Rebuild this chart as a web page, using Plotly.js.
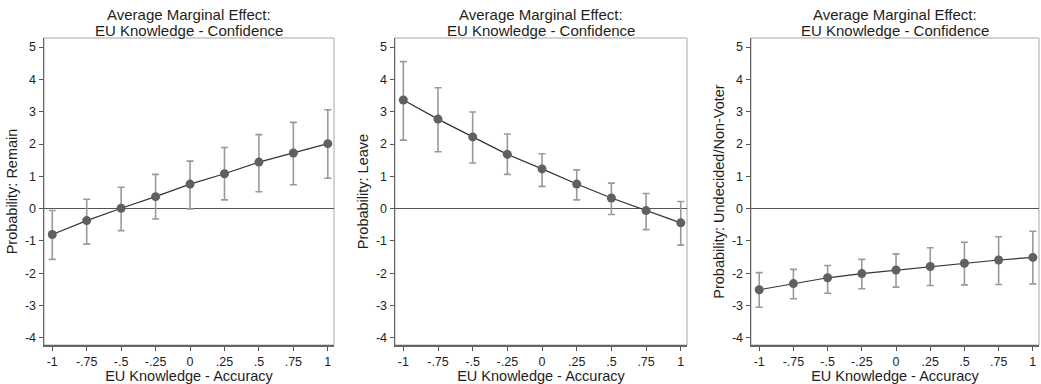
<!DOCTYPE html>
<html>
<head>
<meta charset="utf-8">
<script src="https://cdn.plot.ly/plotly-3.0.1.min.js"></script>
<style>html,body{margin:0;padding:0;background:#fff;}#chart{width:1041px;height:384px;}</style>
</head>
<body>
<div id="chart"></div>
<script>
// Data
const accuracy = [-1, -0.75, -0.5, -0.25, 0, 0.25, 0.5, 0.75, 1];
const xTickLabels = ['-1', '-.75', '-.5', '-.25', '0', '.25', '.5', '.75', '1'];
const yTickVals = [-4, -3, -2, -1, 0, 1, 2, 3, 4, 5];

const remainEst = [-0.80, -0.37, 0.01, 0.37, 0.76, 1.08, 1.44, 1.72, 2.01];
const remainHi  = [-0.06, 0.29, 0.66, 1.06, 1.47, 1.89, 2.29, 2.67, 3.06];
const remainLo  = [-1.57, -1.10, -0.68, -0.32, -0.01, 0.27, 0.52, 0.74, 0.94];

const leaveEst = [3.36, 2.77, 2.22, 1.68, 1.23, 0.76, 0.33, -0.06, -0.44];
const leaveHi  = [4.55, 3.74, 2.99, 2.31, 1.70, 1.20, 0.79, 0.47, 0.22];
const leaveLo  = [2.12, 1.76, 1.41, 1.06, 0.69, 0.27, -0.18, -0.65, -1.13];

const undecEst = [-2.51, -2.32, -2.14, -2.01, -1.90, -1.79, -1.69, -1.59, -1.51];
const undecHi  = [-1.98, -1.88, -1.76, -1.57, -1.40, -1.21, -1.04, -0.87, -0.70];
const undecLo  = [-3.05, -2.79, -2.62, -2.48, -2.43, -2.38, -2.36, -2.35, -2.33];

const panelTitleLines = ['Average Marginal Effect:', 'EU Knowledge - Confidence'];
const xTitle = 'EU Knowledge - Accuracy';
const yTitles = ['Probability: Remain', 'Probability: Leave', 'Probability: Undecided/Non-Voter'];

const series = [
  [remainEst, remainHi, remainLo],
  [leaveEst, leaveHi, leaveLo],
  [undecEst, undecHi, undecLo]
];

const W = 1041, H = 384;
const boxes = [[44, 334], [395, 687], [751, 1039]];
const yTop = 38, yBot = 345;
const FONT = '"Liberation Sans", Arial, Helvetica, sans-serif';
const TXT = '#1e1e1e';

const traces = [];
const layout = {
  width: W, height: H,
  margin: {l: 0, r: 0, t: 0, b: 0},
  paper_bgcolor: '#fff', plot_bgcolor: '#fff',
  showlegend: false,
  font: {family: FONT, size: 13, color: TXT},
  annotations: [], shapes: []
};

series.forEach((s, i) => {
  const ax = i === 0 ? '' : String(i + 1);
  const [est, hi, lo] = s;
  traces.push({
    type: 'scatter', mode: 'lines+markers',
    x: accuracy, y: est,
    xaxis: 'x' + ax, yaxis: 'y' + ax,
    line: {color: '#333', width: 1.2},
    marker: {color: '#606060', size: 9, symbol: 'circle'},
    error_y: {
      type: 'data', symmetric: false,
      array: hi.map((v, k) => v - est[k]),
      arrayminus: est.map((v, k) => v - lo[k]),
      color: '#9a9a9a', thickness: 1.6, width: 3.5
    },
    hoverinfo: 'x+y'
  });
  const [x0, x1] = boxes[i];
  layout['xaxis' + ax] = {
    domain: [x0 / W, x1 / W],
    anchor: 'y' + ax,
    range: [-1.06, 1.045],
    tickvals: accuracy, ticktext: xTickLabels,
    ticks: 'outside', ticklen: 4, tickwidth: 1, tickcolor: '#555',
    showgrid: false, zeroline: false,
    showline: true, linecolor: '#666', linewidth: 1.5,
    tickfont: {family: FONT, size: 12.5, color: TXT},
    title: {text: xTitle, font: {family: FONT, size: 14.5, color: TXT}, standoff: 4},
    automargin: false, fixedrange: true
  };
  layout['yaxis' + ax] = {
    domain: [1 - yBot / H, 1 - yTop / H],
    anchor: 'x' + ax,
    range: [-4.22, 5.28],
    tickvals: yTickVals, ticktext: yTickVals.map(String),
    ticks: 'outside', ticklen: 4, tickwidth: 1, tickcolor: '#555',
    showgrid: false,
    zeroline: true, zerolinecolor: '#555', zerolinewidth: 1.2,
    showline: true, linecolor: '#666', linewidth: 1.5,
    tickfont: {family: FONT, size: 12.5, color: TXT},
    title: {text: yTitles[i], font: {family: FONT, size: 14.5, color: TXT}, standoff: 4},
    automargin: false, fixedrange: true
  };
  // light frame on top and right
  layout.shapes.push({
    type: 'rect', xref: 'x' + ax + ' domain', yref: 'y' + ax + ' domain',
    x0: 0, x1: 1, y0: 0, y1: 1,
    line: {color: '#a8a8a8', width: 1}, layer: 'below'
  });
  panelTitleLines.forEach((t, j) => {
    layout.annotations.push({
      text: t, xref: 'x' + ax + ' domain', yref: 'paper',
      x: 0.5, y: 1 - (14 + 16 * j) / H, xanchor: 'center', yanchor: 'middle',
      showarrow: false, align: 'center',
      font: {family: FONT, size: 15, color: TXT}
    });
  });
});

Plotly.newPlot('chart', traces, layout, {displayModeBar: false, staticPlot: true});
</script>
</body>
</html>
